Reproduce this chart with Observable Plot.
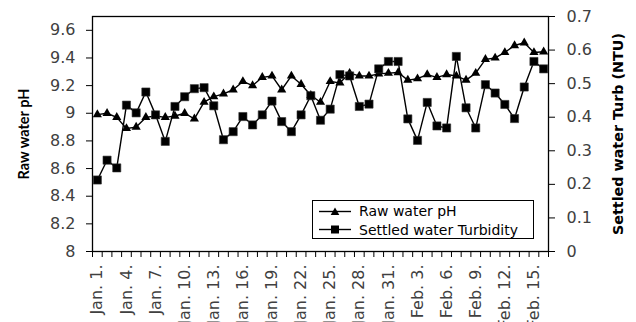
<!DOCTYPE html>
<html>
<head>
<meta charset="utf-8">
<script src="https://cdn.jsdelivr.net/npm/d3@7"></script>
<script src="https://cdn.jsdelivr.net/npm/@observablehq/plot@0.6"></script>
<style>
  body { margin: 0; background: #fff; }
  #wrap { position: relative; width: 636px; height: 322px; overflow: hidden; background: #fff; }
  #legend { position: absolute; left: 312px; top: 200px; width: 220px; height: 37px; border: 1px solid #000; background: #fff; font-family: "DejaVu Sans", sans-serif; font-size: 14px; color: #000; }
  #legend .row { position: absolute; left: 0; height: 18px; display: flex; align-items: center; white-space: nowrap; }
  #legend svg { margin-left: 6px; margin-right: 8px; }
</style>
</head>
<body>
<div id="wrap"></div>
<script>
// Categories (daily samples)
const dates = ["Jan. 1.","Jan. 2.","Jan. 3.","Jan. 4.","Jan. 5.","Jan. 6.","Jan. 7.","Jan. 8.","Jan. 9.","Jan. 10.",
  "Jan. 11.","Jan. 12.","Jan. 13.","Jan. 14.","Jan. 15.","Jan. 16.","Jan. 17.","Jan. 18.","Jan. 19.","Jan. 20.",
  "Jan. 21.","Jan. 22.","Jan. 23.","Jan. 24.","Jan. 25.","Jan. 26.","Jan. 27.","Jan. 28.","Jan. 29.","Jan. 30.",
  "Jan. 31.","Feb. 1.","Feb. 2.","Feb. 3.","Feb. 4.","Feb. 5.","Feb. 6.","Feb. 7.","Feb. 8.","Feb. 9.",
  "Feb. 10.","Feb. 11.","Feb. 12.","Feb. 13.","Feb. 14.","Feb. 15.","Feb. 16."];

// Series values
const rawPH = [8.99, 9.00, 8.97, 8.89, 8.90, 8.97, 8.98, 8.97, 8.98, 9.00,
  8.96, 9.08, 9.12, 9.14, 9.17, 9.23, 9.20, 9.26, 9.27, 9.17,
  9.27, 9.21, 9.13, 9.08, 9.23, 9.22, 9.29, 9.27, 9.27, 9.285,
  9.29, 9.295, 9.24, 9.25, 9.28, 9.26, 9.28, 9.27, 9.24, 9.29,
  9.39, 9.40, 9.44, 9.49, 9.51, 9.44, 9.445];
const settledTurb = [0.213, 0.272, 0.249, 0.436, 0.413, 0.475, 0.407, 0.328, 0.432, 0.461,
  0.485, 0.488, 0.434, 0.333, 0.357, 0.402, 0.377, 0.407, 0.448, 0.387,
  0.357, 0.407, 0.464, 0.391, 0.424, 0.527, 0.523, 0.432, 0.439, 0.544,
  0.566, 0.566, 0.395, 0.331, 0.444, 0.374, 0.368, 0.581, 0.428, 0.368,
  0.497, 0.472, 0.438, 0.396, 0.490, 0.566, 0.544];

// Tick labels
const xTickLabels = ["Jan. 1.","Jan. 4.","Jan. 7.","Jan. 10.","Jan. 13.","Jan. 16.","Jan. 19.","Jan. 22.",
  "Jan. 25.","Jan. 28.","Jan. 31.","Feb. 3.","Feb. 6.","Feb. 9.","Feb. 12.","Feb. 15."];
const phTicks = [8, 8.2, 8.4, 8.6, 8.8, 9, 9.2, 9.4, 9.6];
const phTickLabels = ["8", "8.2", "8.4", "8.6", "8.8", "9", "9.2", "9.4", "9.6"];
const turbTicks = [0, 0.1, 0.2, 0.3, 0.4, 0.5, 0.6, 0.7];
const turbTickLabels = ["0", "0.1", "0.2", "0.3", "0.4", "0.5", "0.6", "0.7"];

// Axis domains
const phDomain = [8, 9.7];
const turbDomain = [0, 0.7];

// map turbidity onto the left (pH) scale for the secondary axis
const turbToPH = t => phDomain[0] + (t - turbDomain[0]) * (phDomain[1] - phDomain[0]) / (turbDomain[1] - turbDomain[0]);

const rows = dates.map((d, i) => ({i, date: d, ph: rawPH[i], turb: settledTurb[i], turbY: turbToPH(settledTurb[i])}));
const xLabelIdx = xTickLabels.map(l => dates.indexOf(l));
const boundaries = d3.range(dates.length + 1).map(k => k - 0.5);
const turbTickPos = turbTicks.map(turbToPH);

const chart = Plot.plot({
  width: 636,
  height: 322,
  marginLeft: 92,
  marginRight: 88,
  marginTop: 16,
  marginBottom: 71,
  style: { fontFamily: "DejaVu Sans, sans-serif", fontSize: "16px", color: "#404040", background: "#fff", overflow: "visible" },
  x: { type: "linear", domain: [-0.5, dates.length - 0.5], axis: null },
  y: { domain: phDomain, axis: null },
  marks: [
    Plot.frame({ stroke: "#000", strokeWidth: 1.3 }),
    Plot.axisY(phTicks, { anchor: "left", tickSize: 6, tickPadding: 11, stroke: "#000", fill: "#404040",
      tickFormat: d => phTickLabels[phTicks.indexOf(d)], label: null, fontSize: 16 }),
    Plot.axisY(turbTickPos, { anchor: "right", tickSize: 6, tickPadding: 12, stroke: "#000", fill: "#404040",
      tickFormat: d => turbTickLabels[turbTickPos.indexOf(d)], label: null, fontSize: 16 }),
    Plot.axisX(boundaries, { anchor: "bottom", tickSize: 6, stroke: "#000", tickFormat: () => "", label: null }),
    Plot.axisX(xLabelIdx, { anchor: "bottom", tickSize: 0, tickPadding: 13, tickRotate: -90, fill: "#404040",
      tickFormat: i => dates[i], label: null, fontSize: 16 }),
    Plot.text(["Raw water pH"], { text: d => d, frameAnchor: "left", textAnchor: "middle", dx: -68, rotate: -90,
      fontWeight: "bold", fontFamily: "Lato, sans-serif", fontSize: 14.5, fill: "#000" }),
    Plot.text(["Settled water Turb (NTU)"], { text: d => d, frameAnchor: "right", textAnchor: "middle", dx: 70, rotate: -90,
      fontWeight: "bold", fontFamily: "DejaVu Sans, sans-serif", fontSize: 14.3, fill: "#000" }),
    Plot.line(rows, { x: "i", y: "ph", stroke: "#000", strokeWidth: 1.4 }),
    Plot.dot(rows, { x: "i", y: "ph", symbol: "triangle", r: 3.4, fill: "#000", stroke: "none" }),
    Plot.line(rows, { x: "i", y: "turbY", stroke: "#000", strokeWidth: 1.4 }),
    Plot.dot(rows, { x: "i", y: "turbY", symbol: "square", r: 4.6, fill: "#000", stroke: "#333", strokeWidth: 0.6 })
  ]
});

const wrap = document.getElementById("wrap");
wrap.appendChild(chart);

// Legend (inside plot area, as in the original)
const legendItems = [
  { label: "Raw water pH", symbol: "triangle" },
  { label: "Settled water Turbidity", symbol: "square" }
];
const legend = document.createElement("div");
legend.id = "legend";
legendItems.forEach((it, k) => {
  const row = document.createElement("div");
  row.className = "row";
  row.style.top = (1 + k * 18.5) + "px";
  const sym = it.symbol === "triangle"
    ? '<path d="M16,1.5 L20.3,9 L11.7,9 Z" fill="#000"/>'
    : '<rect x="12" y="1.5" width="8" height="8" fill="#000"/>';
  row.innerHTML = '<svg width="32" height="11"><line x1="0" y1="5.5" x2="32" y2="5.5" stroke="#000" stroke-width="1.4"/>' + sym + '</svg><span>' + it.label + '</span>';
  legend.appendChild(row);
});
wrap.appendChild(legend);
</script>
</body>
</html>
